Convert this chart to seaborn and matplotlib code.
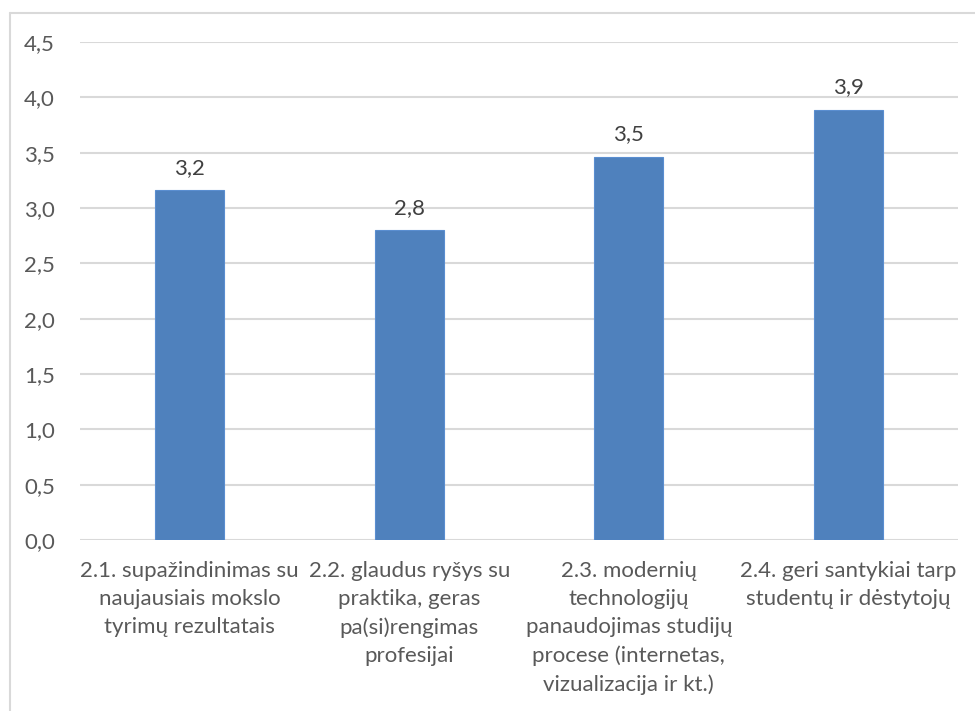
import matplotlib
matplotlib.use("Agg")
import matplotlib.pyplot as plt
import seaborn as sns
import pandas as pd
from matplotlib.lines import Line2D

# --- dati ---
categorie = [
    "2.1. supažindinimas su\nnaujausiais mokslo\ntyrimų rezultatais",
    "2.2. glaudus ryšys su\npraktika, geras\npa(si)rengimas\nprofesijai",
    "2.3. modernių\ntechnologijų\npanaudojimas studijų\nprocese (internetas,\nvizualizacija ir kt.)",
    "2.4. geri santykiai tarp\nstudentų ir dėstytojų",
]
valori = [3.16, 2.80, 3.46, 3.885]
yticks = [0.0, 0.5, 1.0, 1.5, 2.0, 2.5, 3.0, 3.5, 4.0, 4.5]

df = pd.DataFrame({"categoria": categorie, "valore": valori})

sns.set_theme(style="white")
plt.rcParams["font.family"] = ["Lato", "DejaVu Sans"]

TESTO = "#595959"
GRIGLIA = "#D9D9D9"
BLU = "#4F81BD"
FS = 16

fig = plt.figure(figsize=(9.75, 7.11), dpi=100)
ax = fig.add_axes([80 / 975, 1 - 540 / 711, 878 / 975, 498 / 711])

sns.barplot(data=df, x="categoria", y="valore", color=BLU, width=0.315,
            saturation=1, edgecolor="#5A8ED0", linewidth=0.8, ax=ax, zorder=3)

ax.set_ylim(0, 4.5)
ax.set_xlim(-0.5, 3.5)
ax.set_yticks(yticks)
ax.set_yticklabels([f"{v:.1f}".replace(".", ",") for v in yticks],
                   fontsize=FS, color=TESTO)
ax.tick_params(axis="y", length=0, pad=18)
ax.tick_params(axis="x", length=0, pad=15)
for lab in ax.get_xticklabels():
    lab.set_fontsize(FS)
    lab.set_color(TESTO)
    lab.set_linespacing(1.5)
    lab.set_ha("center")
    lab.set_va("top")

ax.yaxis.grid(True, color=GRIGLIA, linewidth=1.5, zorder=0)
ax.xaxis.grid(False)
for s in ax.spines.values():
    s.set_visible(False)
ax.set_xlabel("")
ax.set_ylabel("")

# etichette dei valori
for cont in ax.containers:
    ax.bar_label(cont, labels=[f"{v:.1f}".replace(".", ",") for v in valori],
                 padding=9, fontsize=FS, color="#404040")

# cornice del grafico (sinistra e in alto)
fig.add_artist(Line2D([9.5 / 975, 9.5 / 975], [0, 1 - 12.5 / 711],
                      transform=fig.transFigure, color=GRIGLIA, linewidth=1.5))
fig.add_artist(Line2D([9.5 / 975, 1], [1 - 12.5 / 711, 1 - 12.5 / 711],
                      transform=fig.transFigure, color=GRIGLIA, linewidth=1.5))

fig.savefig("out.png", dpi=100)
